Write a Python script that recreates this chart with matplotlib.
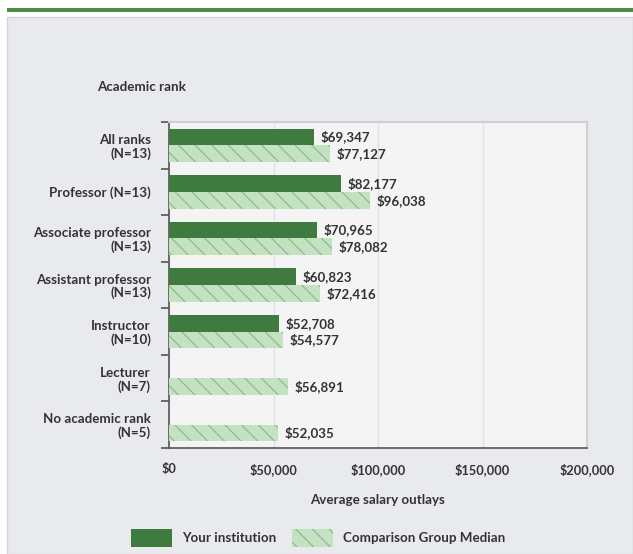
import matplotlib

matplotlib.use("Agg")
import matplotlib.pyplot as plt
import numpy as np
from matplotlib.patches import Rectangle, Patch

# values
categories = ["All ranks\n(N=13)", "Professor (N=13)", "Associate professor\n(N=13)",
              "Assistant professor\n(N=13)", "Instructor\n(N=10)", "Lecturer\n(N=7)",
              "No academic rank\n(N=5)"]
institution = [69347, 82177, 70965, 60823, 52708, np.nan, np.nan]
comparison = [77127, 96038, 78082, 72416, 54577, 56891, 52035]
xticks = [0, 50000, 100000, 150000, 200000]

DARK = "#3f7a3e"
LIGHT = "#c4e2c1"
HATCH = "#86bb83"
TEXT = "#333333"
FS = 9.6

plt.rcParams["font.family"] = ["Lato", "DejaVu Sans"]
plt.rcParams["hatch.linewidth"] = 0.8

fig = plt.figure(figsize=(6.33, 5.54), dpi=100)

# page decoration: green rule and grey panel (behind the axes)
fig.add_artist(Rectangle((7 / 633, 1 - 12 / 554), 626 / 633, 4 / 554, transform=fig.transFigure,
                         facecolor="#4e8a4a", edgecolor="none", zorder=-2))
fig.add_artist(Rectangle((7 / 633, 0), 626 / 633, 1 - 17 / 554, transform=fig.transFigure,
                         facecolor="#e9eaee", edgecolor="#d4d4d8", lw=1.0, zorder=-2))

ax = fig.add_axes([169 / 633, 1 - 448 / 554, 418 / 633, 326 / 554])
ax.set_facecolor("#f4f4f4")

y = np.arange(len(categories))
h = 0.36
ax.barh(y - h / 2, institution, height=h, color=DARK, edgecolor="none", zorder=3)
ax.barh(y + h / 2, comparison, height=h, color=LIGHT, edgecolor=HATCH, lw=0, hatch="\\\\", zorder=3)

for yi, v in zip(y, institution):
    if not np.isnan(v):
        ax.text(v + 3200, yi - h / 2, f"${v:,.0f}", va="center", ha="left", fontsize=FS,
                fontweight="bold", color=TEXT)
for yi, v in zip(y, comparison):
    ax.text(v + 3200, yi + h / 2, f"${v:,.0f}", va="center", ha="left", fontsize=FS,
            fontweight="bold", color=TEXT)

ax.set_xlim(0, 200000)
ax.set_ylim(len(categories) - 0.5, -0.5)
ax.set_xticks(xticks)
ax.set_xticklabels([f"${t:,.0f}" for t in xticks], fontsize=9.2, fontweight="bold", color=TEXT)
ax.tick_params(axis="x", length=0, pad=11)
ax.grid(axis="x", color="#dde3ee", lw=1.0, zorder=0)

ax.set_yticks(y)
ax.set_yticklabels(categories, fontsize=FS, fontweight="bold", color=TEXT, linespacing=1.1)
ax.tick_params(axis="y", length=0, pad=13)
ax.set_yticks(np.arange(-0.5, len(categories) + 0.5, 1), minor=True)
ax.tick_params(axis="y", which="minor", length=6, width=1.2, color="#555555", direction="out")

for s in ["left", "bottom"]:
    ax.spines[s].set_color("#555555")
    ax.spines[s].set_linewidth(1.2)
for s in ["top", "right"]:
    ax.spines[s].set_color("#cfcfd3")
    ax.spines[s].set_linewidth(1.5)

ax.set_xlabel("Average salary outlays", fontsize=FS, fontweight="bold", color=TEXT, labelpad=13)
fig.text(97 / 633, 1 - 87 / 554, "Academic rank", fontsize=FS, fontweight="bold", color=TEXT,
         va="center", ha="left")

handles = [Patch(facecolor=DARK, edgecolor="none"),
           Patch(facecolor=LIGHT, edgecolor=HATCH, lw=0, hatch="\\\\")]
fig.legend(handles, ["Your institution", "Comparison Group Median"], loc="center",
           bbox_to_anchor=(318 / 633, 1 - 538 / 554), ncol=2, frameon=False,
           prop={"size": FS, "weight": "bold"}, handlelength=3.1, handleheight=1.8,
           handletextpad=0.7, columnspacing=1.2, labelcolor=TEXT)

fig.savefig("out.png", dpi=100)
